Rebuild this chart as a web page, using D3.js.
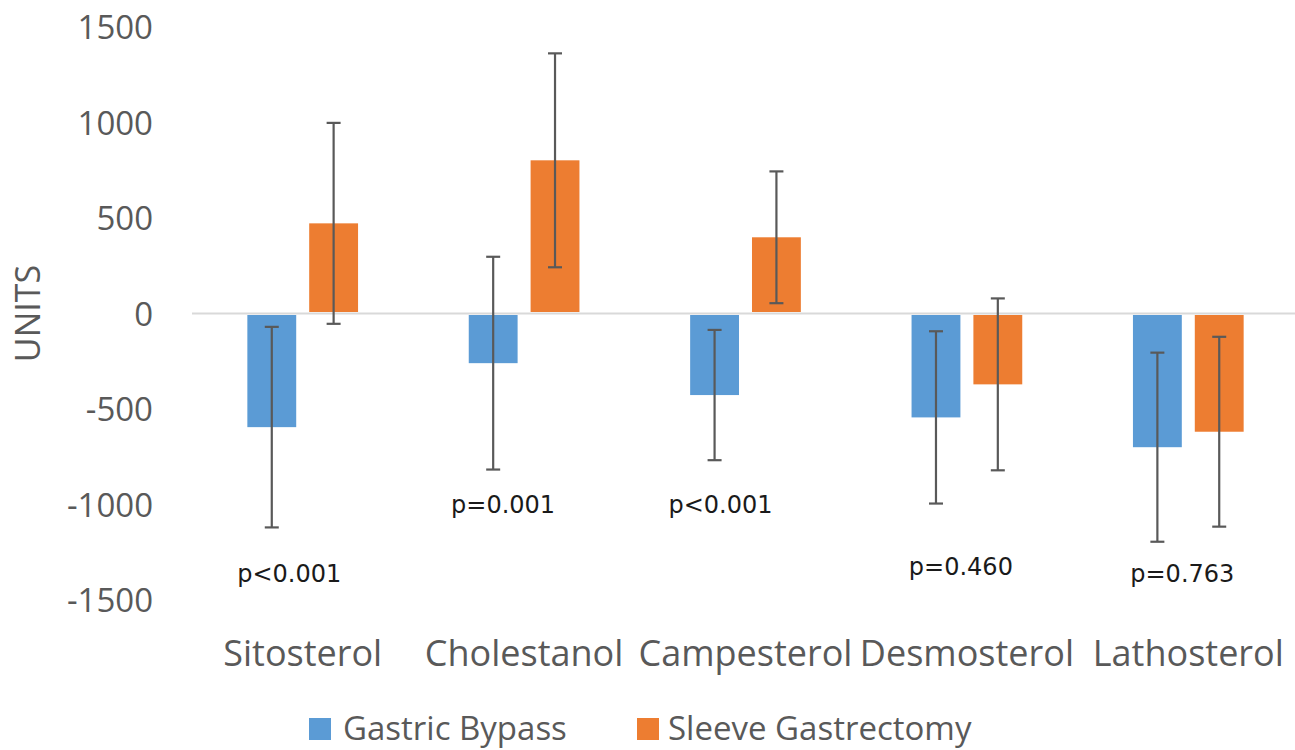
<!DOCTYPE html>
<html>
<head>
<meta charset="utf-8">
<script src="https://cdn.jsdelivr.net/npm/d3@7"></script>
<style>
  html, body { margin: 0; padding: 0; background: #fff; }
  svg { display: block; }
</style>
</head>
<body>
<svg id="chart" width="1295" height="750"></svg>
<script>
// ---- data ----
const categories = ["Sitosterol", "Cholestanol", "Campesterol", "Desmosterol", "Lathosterol"];
const seriesNames = ["Gastric Bypass", "Sleeve Gastrectomy"];
const gastricBypass = [-595, -260, -427, -544, -700];
const gastricBypassErr = [525, 557, 341, 451, 495];
const sleeveGastrectomy = [472, 802, 399, -371, -619];
const sleeveGastrectomyErr = [526, 560, 345, 450, 497];
const pLabels = ["p<0.001", "p=0.001", "p<0.001", "p=0.460", "p=0.763"];
const pLabelValue = [-1406, -1045, -1045, -1369, -1406];
const yTicks = [-1500, -1000, -500, 0, 500, 1000, 1500];
const yTitle = "UNITS";

// ---- layout ----
const svg = d3.select("#chart");
const colors = ["#5B9BD5", "#ED7D31"];
const textGray = "#595959";
const pOffsets = [-13.5, -21, -25, -6, -6];

const y = d3.scaleLinear().domain([-1500, 1500]).range([600, 27]);
const x0 = d3.scaleBand().domain(categories).range([192, 1299])
  .paddingInner(0.5).paddingOuter(0.25);
const x1 = d3.scaleBand().domain(seriesNames).range([0, x0.bandwidth()])
  .paddingInner(0.21).paddingOuter(0);

const series = [
  { name: seriesNames[0], values: gastricBypass, errs: gastricBypassErr, color: colors[0] },
  { name: seriesNames[1], values: sleeveGastrectomy, errs: sleeveGastrectomyErr, color: colors[1] }
];

// y tick labels
const yAxis = d3.axisLeft(y).tickValues(yTicks).tickSize(0).tickPadding(0)
  .tickFormat(d => String(d));
const yg = svg.append("g").attr("transform", "translate(153,0)").call(yAxis);
yg.select(".domain").remove();
yg.selectAll("text")
  .attr("font-family", "Open Sans, sans-serif")
  .attr("font-size", 33)
  .attr("fill", textGray)
  .attr("dy", "0.36em");

// zero line
svg.append("line")
  .attr("x1", 192).attr("x2", 1295)
  .attr("y1", y(0)).attr("y2", y(0))
  .attr("stroke", "#D9D9D9").attr("stroke-width", 2);

// bars
const groups = svg.append("g").selectAll("g.series")
  .data(series).join("g").attr("class", "series");

groups.selectAll("rect")
  .data(s => categories.map((c, i) => ({ c, v: s.values[i], e: s.errs[i], s })))
  .join("rect")
  .attr("x", d => x0(d.c) + x1(d.s.name))
  .attr("width", x1.bandwidth())
  .attr("y", d => Math.min(y(d.v), y(0) + 1.5))
  .attr("height", d => Math.abs(y(d.v) - y(0)) - 1.5)
  .attr("fill", d => d.s.color);

// error bars
const errG = svg.append("g");
series.forEach(s => {
  categories.forEach((c, i) => {
    const cx = x0(c) + x1(s.name) + x1.bandwidth() / 2;
    const hi = s.values[i] + s.errs[i];
    const lo = s.values[i] - s.errs[i];
    errG.append("line")
      .attr("x1", cx).attr("x2", cx)
      .attr("y1", y(hi)).attr("y2", y(lo))
      .attr("stroke", "#595959").attr("stroke-width", 2.2);
    [hi, lo].forEach(v => {
      errG.append("line")
        .attr("x1", cx - 7).attr("x2", cx + 7)
        .attr("y1", y(v)).attr("y2", y(v))
        .attr("stroke", "#595959").attr("stroke-width", 2.2);
    });
  });
});

// category labels
const xAxis = d3.axisBottom(x0).tickSize(0).tickPadding(0);
const xg = svg.append("g").attr("transform", "translate(0,666)").call(xAxis);
xg.select(".domain").remove();
xg.selectAll("text")
  .attr("font-family", "Open Sans, sans-serif")
  .attr("font-size", 36)
  .attr("fill", textGray)
  .attr("dy", 0)
  .attr("y", 0);

// p-value labels
svg.append("g").selectAll("text")
  .data(categories)
  .join("text")
  .attr("x", (c, i) => x0(c) + x0.bandwidth() / 2 + pOffsets[i])
  .attr("y", (c, i) => y(pLabelValue[i]))
  .attr("text-anchor", "middle")
  .attr("font-family", "DejaVu Sans, sans-serif")
  .attr("font-size", 24)
  .attr("fill", "#1a1a1a")
  .text((c, i) => pLabels[i]);

// y title
svg.append("text")
  .attr("transform", `translate(40,${y(0)}) rotate(-90)`)
  .attr("text-anchor", "middle")
  .attr("font-family", "Open Sans, sans-serif")
  .attr("font-size", 34)
  .attr("fill", textGray)
  .text(yTitle);

// legend
const legendPos = [{ sx: 309, tx: 343 }, { sx: 637, tx: 668 }];
const lg = svg.append("g");
series.forEach((s, i) => {
  lg.append("rect")
    .attr("x", legendPos[i].sx).attr("y", 718)
    .attr("width", 22).attr("height", 22)
    .attr("fill", s.color);
  lg.append("text")
    .attr("x", legendPos[i].tx).attr("y", 740)
    .attr("font-family", "Open Sans, sans-serif")
    .attr("font-size", 33)
    .attr("fill", textGray)
    .text(s.name);
});
</script>
</body>
</html>
